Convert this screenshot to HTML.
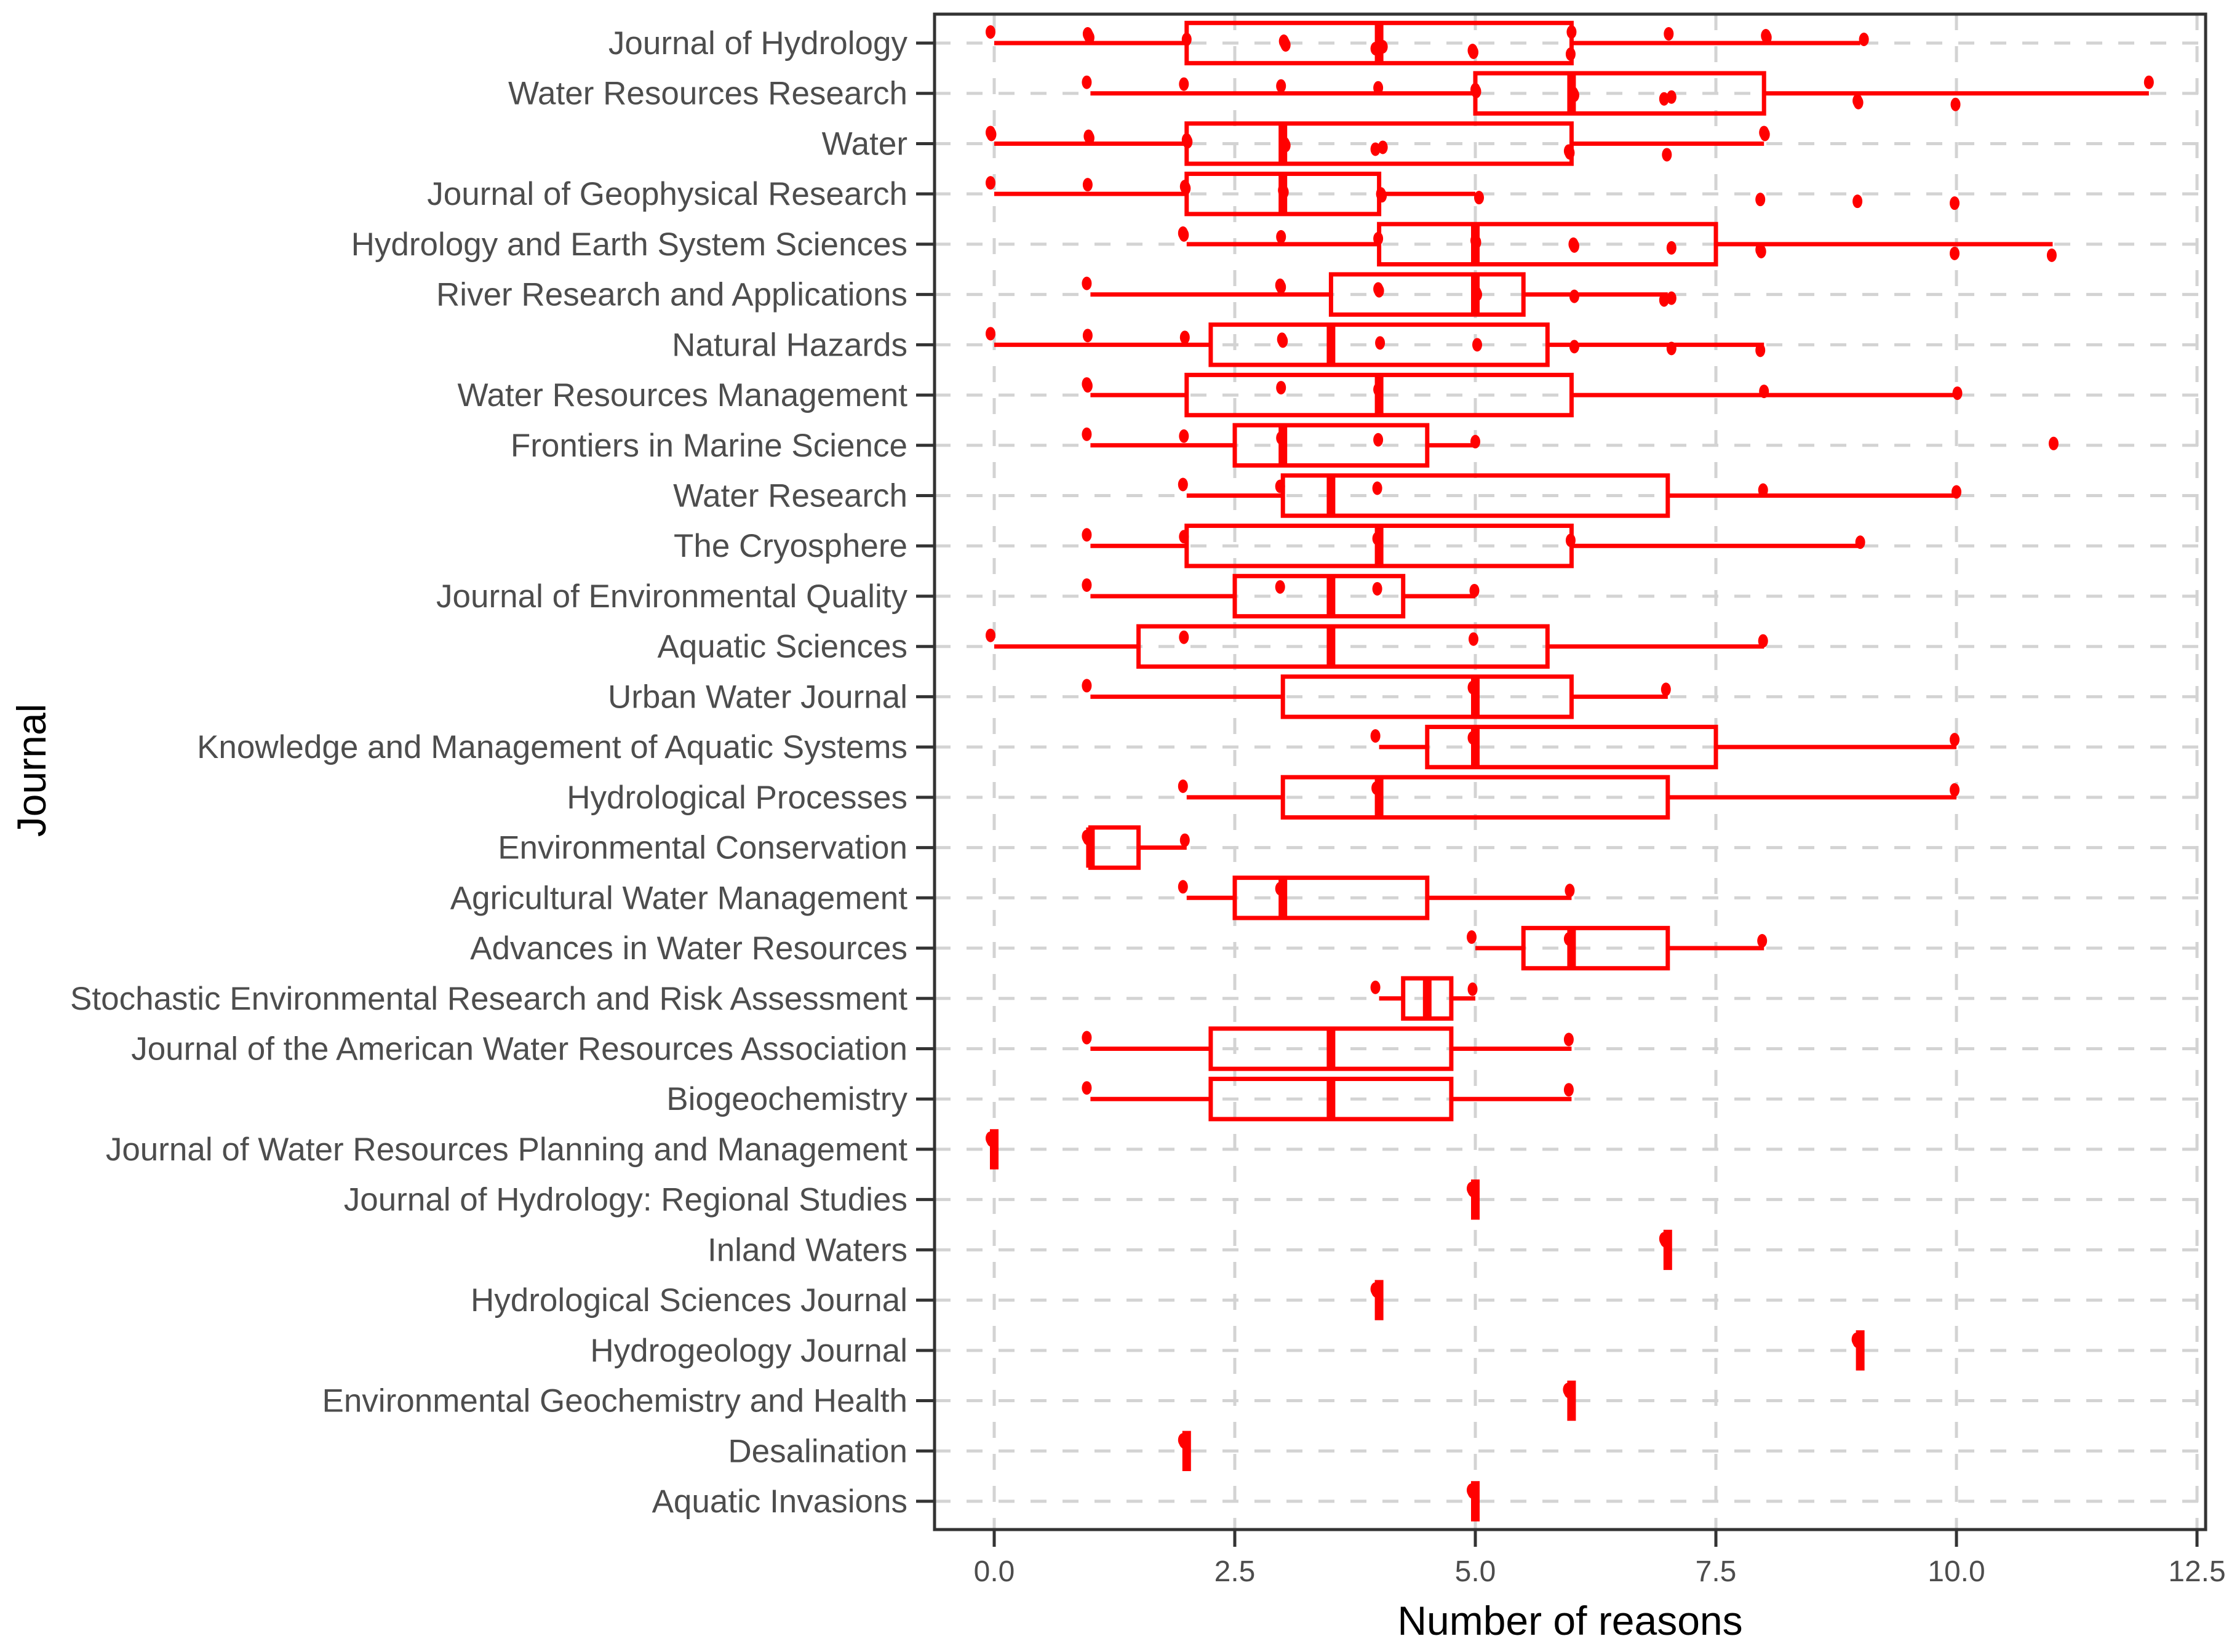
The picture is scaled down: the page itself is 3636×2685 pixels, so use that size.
<!DOCTYPE html>
<html><head><meta charset="utf-8"><style>
html,body{margin:0;padding:0;background:#fff;}
svg{display:block;font-family:"Liberation Sans",Arial,sans-serif;}
</style></head><body>
<svg id="chart" width="3636" height="2685" viewBox="0 0 3636 2685" xmlns="http://www.w3.org/2000/svg">
<rect width="3636" height="2685" fill="#fff"/>
<g id="grid"></g>
<g id="marks"></g>
<g id="axes"></g>
<text x="2552" y="2657" font-size="66" text-anchor="middle" fill="#000">Number of reasons</text>
<text transform="translate(74,1252) rotate(-90)" font-size="66" text-anchor="middle" fill="#000">Journal</text>
</svg>
<script>
const categories = ["Journal of Hydrology","Water Resources Research","Water","Journal of Geophysical Research","Hydrology and Earth System Sciences","River Research and Applications","Natural Hazards","Water Resources Management","Frontiers in Marine Science","Water Research","The Cryosphere","Journal of Environmental Quality","Aquatic Sciences","Urban Water Journal","Knowledge and Management of Aquatic Systems","Hydrological Processes","Environmental Conservation","Agricultural Water Management","Advances in Water Resources","Stochastic Environmental Research and Risk Assessment","Journal of the American Water Resources Association","Biogeochemistry","Journal of Water Resources Planning and Management","Journal of Hydrology: Regional Studies","Inland Waters","Hydrological Sciences Journal","Hydrogeology Journal","Environmental Geochemistry and Health","Desalination","Aquatic Invasions"];
const q1 = [2,5,2,2,4,3.5,2.25,2,2.5,3,2,2.5,1.5,3,4.5,3,1,2.5,5.5,4.25,2.25,2.25,0,5,7,4,9,6,2,5];
const medians = [4,6,3,3,5,5,3.5,4,3,3.5,4,3.5,3.5,5,5,4,1,3,6,4.5,3.5,3.5,0,5,7,4,9,6,2,5];
const q3 = [6,8,6,4,7.5,5.5,5.75,6,4.5,7,6,4.25,5.75,6,7.5,7,1.5,4.5,7,4.75,4.75,4.75,0,5,7,4,9,6,2,5];
const whiskerLow = [0,1,0,0,2,1,0,1,1,2,1,1,0,1,4,2,1,2,5,4,1,1,0,5,7,4,9,6,2,5];
const whiskerHigh = [9,12,8,5,11,7,8,10,5,10,9,5,8,7,10,10,2,6,8,5,6,6,0,5,7,4,9,6,2,5];
const points = [[0,1,1,1,2,3,3,3,4,4,5,5,6,6,7,8,8,9],[1,2,3,4,5,5,6,6,7,7,9,9,10,12],[0,0,1,1,2,2,3,3,4,4,6,6,7,8,8],[0,1,2,2,3,3,4,4,5,8,9,10],[2,2,3,4,5,5,6,6,7,8,8,10,11],[1,3,3,4,4,5,5,6,7,7],[0,1,2,3,3,4,5,6,7,8],[1,1,3,4,8,10],[1,2,3,4,5,11],[2,3,4,8,10],[1,2,4,6,9],[1,3,4,5],[0,2,5,8],[1,5,7],[4,5,10],[2,4,10],[1,1,2],[2,3,6],[5,6,8],[4,5],[1,6],[1,6],[0,0],[5,5],[7,7],[4,4],[9,9],[6,6],[2,2],[5,5]];
const xTicks = [0,2.5,5,7.5,10,12.5];
const xTickLabels = ["0.0","2.5","5.0","7.5","10.0","12.5"];

const NS="http://www.w3.org/2000/svg";
const PL=1519,PR=3585,PT=23,PB=2486;
const X0=1616,XU=156.4;
const x=v=>X0+v*XU;
const Y0=70,YS=(2440-70)/29;
const y=i=>Y0+i*YS;
const RED="#ff0000";
function mk(tag,attrs,parent){const e=document.createElementNS(NS,tag);for(const k in attrs)e.setAttribute(k,attrs[k]);parent.appendChild(e);return e;}
const grid=document.getElementById('grid'),marks=document.getElementById('marks'),axes=document.getElementById('axes');
xTicks.forEach((t,i)=>{const l=mk('line',{x1:x(t),x2:x(t),y1:PT,y2:PB,stroke:'#d3d3d3','stroke-width':5,'stroke-dasharray':'26,26'},grid);

});
categories.forEach((c,i)=>{const l=mk('line',{x1:PL,x2:PR,y1:y(i),y2:y(i),stroke:'#d3d3d3','stroke-width':5,'stroke-dasharray':'26,26'},grid);

});
const hh=YS*0.4;
categories.forEach((c,i)=>{
 const g=mk('g',{},marks);
 
 
 const cy=y(i);
 mk('line',{x1:x(whiskerLow[i]),x2:x(q1[i]),y1:cy,y2:cy,stroke:RED,'stroke-width':7},g);
 mk('line',{x1:x(q3[i]),x2:x(whiskerHigh[i]),y1:cy,y2:cy,stroke:RED,'stroke-width':7},g);
 mk('rect',{x:x(q1[i]),y:cy-hh,width:Math.max(0,x(q3[i])-x(q1[i])),height:2*hh,fill:'none',stroke:RED,'stroke-width':7},g);
 mk('line',{x1:x(medians[i]),x2:x(medians[i]),y1:cy-hh,y2:cy+hh,stroke:RED,'stroke-width':14},g);
 points[i].forEach((p,j)=>{
  const jx=((j*37)%9-4)*1.5, jy=((j*53)%13-6)*3;
  const d=mk('ellipse',{cx:x(p)+jx,cy:cy+jy,rx:8,ry:11,fill:RED},g);
  
  
 });
 const t=mk('line',{x1:PL-30,x2:PL,y1:cy,y2:cy,stroke:'#333','stroke-width':5},axes);
 
 
 const lb=mk('text',{x:1475,y:cy+18,'font-size':53,'text-anchor':'end',fill:'#4d4d4d'},axes);
 lb.textContent=c;
 
 
});
xTicks.forEach((t,i)=>{
 const tk=mk('line',{x1:x(t),x2:x(t),y1:PB,y2:PB+28,stroke:'#333','stroke-width':5},axes);
 
 
 const lb=mk('text',{x:x(t),y:2570,'font-size':48,'text-anchor':'middle',fill:'#4d4d4d'},axes);
 lb.textContent=xTickLabels[i];
 
 
});
const fr=mk('rect',{x:PL,y:PT,width:PR-PL,height:PB-PT,fill:'none',stroke:'#333','stroke-width':5},axes);


</script>
</body></html>
